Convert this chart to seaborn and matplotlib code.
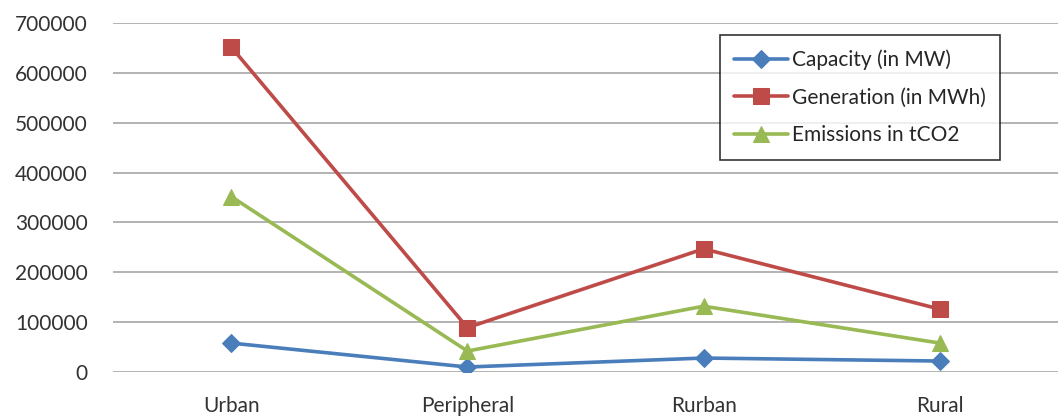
import matplotlib
matplotlib.use("Agg")
from matplotlib import pyplot as plt
import seaborn as sns
import pandas as pd

# data
areas = ["Urban", "Peripheral", "Rurban", "Rural"]
capacity = [58000, 10000, 28000, 22000]
generation = [652000, 89000, 247000, 126000]
emissions = [352000, 42000, 132000, 58000]

names = ["Capacity (in MW)", "Generation (in MWh)", "Emissions in tCO2"]
colors = ["#4A7EBB", "#BE4B48", "#98B954"]
markers = ["D", "s", "^"]
sizes = [9, 12, 12]

df = pd.DataFrame({
    "area": areas * 3,
    "value": capacity + generation + emissions,
    "series": [names[0]] * 4 + [names[1]] * 4 + [names[2]] * 4,
})

sns.set_style("white")
plt.rcParams["font.family"] = ["Lato", "DejaVu Sans"]

fig = plt.figure(figsize=(10.58, 4.18), dpi=100)
ax = fig.add_axes([113 / 1058, 46 / 418, 945 / 1058, 349 / 418])

for name, c, m, s in zip(names, colors, markers, sizes):
    sns.lineplot(data=df[df.series == name], x="area", y="value", ax=ax,
                 color=c, marker=m, markersize=s, markeredgecolor=c,
                 linewidth=2.6, label=name, sort=False)

ax.set_xlim(-0.5, 3.5)
ax.set_ylim(0, 700000)
ax.set_yticks(range(0, 700001, 100000))
ax.yaxis.grid(True, color="#A6A6A6", linewidth=1.2)
ax.set_axisbelow(True)
for sp in ax.spines.values():
    sp.set_visible(False)
ax.set_xlabel("")
ax.set_ylabel("")
ax.tick_params(axis="both", length=0, labelsize=15, colors="#333333")
ax.tick_params(axis="x", pad=17)
ax.tick_params(axis="y", pad=18)

leg = ax.legend(loc="upper left", bbox_to_anchor=(0.642, 0.966), borderaxespad=0,
                frameon=True, fancybox=False, fontsize=15, handlelength=2.6,
                handletextpad=0.15, labelspacing=0.85, borderpad=0.7)
leg.get_frame().set_edgecolor("black")
leg.get_frame().set_linewidth(1.2)

fig.savefig("out.png", dpi=100)
